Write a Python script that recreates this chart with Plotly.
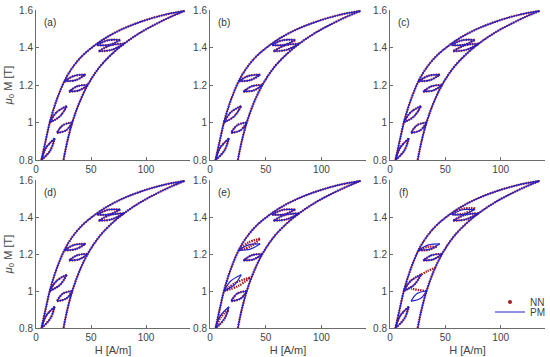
import plotly.graph_objects as go

# ---------------- data ----------------
# major loop, descending branch (tip -> bottom) and ascending branch (bottom -> tip)
maj_desc_H = [135, 115, 95, 78, 63, 52, 42, 34, 27, 22, 17, 12.5, 8.5, 5]
maj_desc_M = [1.595, 1.572, 1.537, 1.497, 1.45, 1.405, 1.355, 1.30, 1.235, 1.17, 1.09, 1.0, 0.895, 0.80]
maj_asc_H = [25, 28.5, 33, 39, 47, 57, 68, 80, 95, 110, 123, 135]
maj_asc_M = [0.80, 0.90, 1.0, 1.10, 1.20, 1.29, 1.36, 1.42, 1.48, 1.528, 1.565, 1.595]

# minor loops of the PM model: start, lower-arc mid, end | end, upper-arc mid, start
pm_loops_H = [
    [5, 12.9, 17, None, 17, 9.1, 5],
    [12.5, 21.9, 28, None, 28, 18.6, 12.5],
    [25.8, 36.1, 45, None, 45, 34.7, 25.8],
    [55.7, 66.6, 76.5, None, 76.5, 65.6, 55.7],
    [33, 24.5, 19, None, 19, 27.5, 33],
    [47, 37.8, 30, None, 30, 39.2, 47],
    [80, 67.9, 57, None, 57, 69.1, 80],
]
pm_loops_M = [
    [0.80, 0.850, 0.915, None, 0.915, 0.865, 0.80],
    [1.0, 1.034, 1.088, None, 1.088, 1.054, 1.0],
    [1.22, 1.226, 1.255, None, 1.255, 1.249, 1.22],
    [1.413, 1.414, 1.44, None, 1.44, 1.439, 1.413],
    [1.0, 0.986, 0.945, None, 0.945, 0.959, 1.0],
    [1.2, 1.194, 1.165, None, 1.165, 1.171, 1.2],
    [1.42, 1.412, 1.38, None, 1.38, 1.388, 1.42],
]

# NN minor loops in panel (e) (differ from PM)
nn_e_loops_H = [
    [5.5, 12.5, 16.5, None, 16.5, 9.5, 5.5],
    [12.5, 25.1, 36, None, 36, 23.4, 12.5],
    [25.8, 36.4, 45, None, 45, 34.4, 25.8],
    [55.7, 66.6, 76.5, None, 76.5, 65.6, 55.7],
    [33, 24.5, 19, None, 19, 27.5, 33],
    [47, 37.8, 30, None, 30, 39.2, 47],
    [80, 67.9, 57, None, 57, 69.1, 80],
]
nn_e_loops_M = [
    [0.80, 0.845, 0.90, None, 0.90, 0.857, 0.80],
    [1.0, 1.0265, 1.072, None, 1.072, 1.0455, 1.0],
    [1.22, 1.241, 1.283, None, 1.283, 1.262, 1.22],
    [1.413, 1.414, 1.44, None, 1.44, 1.439, 1.413],
    [1.0, 0.986, 0.945, None, 0.945, 0.959, 1.0],
    [1.2, 1.194, 1.165, None, 1.165, 1.171, 1.2],
    [1.42, 1.412, 1.38, None, 1.38, 1.388, 1.42],
]

# NN minor loops / paths in panel (f)
nn_f_loops_H = [
    [5, 12.9, 17, None, 17, 9.1, 5],
    [12.5, 21.9, 28, None, 28, 18.6, 12.5],
    [28, 34, 41],
    [25.8, 35.0, 42, None, 42, 33.8, 25.8],
    [56, 66.8, 77, None, 77, 65.8, 56],
    [33, 26, 19],
    [47, 37.8, 30, None, 30, 39.2, 47],
    [80, 67.9, 57, None, 57, 69.1, 80],
]
nn_f_loops_M = [
    [0.80, 0.850, 0.915, None, 0.915, 0.865, 0.80],
    [1.0, 1.034, 1.088, None, 1.088, 1.054, 1.0],
    [1.088, 1.108, 1.125],
    [1.22, 1.222, 1.24, None, 1.24, 1.238, 1.22],
    [1.415, 1.418, 1.447, None, 1.447, 1.444, 1.415],
    [1.0, 1.005, 1.013],
    [1.2, 1.194, 1.165, None, 1.165, 1.171, 1.2],
    [1.42, 1.412, 1.38, None, 1.38, 1.388, 1.42],
]

panel_labels = ["(a)", "(b)", "(c)", "(d)", "(e)", "(f)"]
x_ticks = [0, 50, 100]
y_ticks = [0.8, 1.0, 1.2, 1.4, 1.6]
y_ticktext = ["0.8", "1", "1.2", "1.4", "1.6"]
x_title = "H [A/m]"
y_title = "<i>μ</i><sub>0</sub> M [T]"

# ---------------- layout geometry ----------------
W, H = 550, 357
col_px = [(36, 190), (210, 366), (390, 545)]
row_px = [(10, 160), (180, 328)]

def join(parts_x, parts_y):
    xs, ys = [], []
    for px, py in zip(parts_x, parts_y):
        if xs:
            xs.append(None); ys.append(None)
        xs.extend(px); ys.extend(py)
    return xs, ys

pm_H, pm_M = join([maj_desc_H, maj_asc_H] + pm_loops_H, [maj_desc_M, maj_asc_M] + pm_loops_M)
nn_e_H, nn_e_M = join([maj_desc_H, maj_asc_H] + nn_e_loops_H, [maj_desc_M, maj_asc_M] + nn_e_loops_M)
nn_f_H, nn_f_M = join([maj_desc_H, maj_asc_H] + nn_f_loops_H, [maj_desc_M, maj_asc_M] + nn_f_loops_M)
nn_curves = [(pm_H, pm_M)] * 4 + [(nn_e_H, nn_e_M), (nn_f_H, nn_f_M)]

NN_COLOR = "#a51c22"
PM_COLOR = "#2020cc"
AX_COLOR = "#6b6b6b"
TXT_COLOR = "#444444"
FONT = "Liberation Sans, Arial, sans-serif"

fig = go.Figure()
layout = dict(width=W, height=H,
              margin=dict(l=0, r=0, t=0, b=0, autoexpand=False),
              paper_bgcolor="white", plot_bgcolor="white",
              font=dict(family=FONT, size=10, color=TXT_COLOR),
              showlegend=True)
annotations = []
for i in range(6):
    r, c = divmod(i, 3)
    n = i + 1
    xa = "x" if n == 1 else f"x{n}"
    ya = "y" if n == 1 else f"y{n}"
    x0, x1 = col_px[c]
    t, b = row_px[r]
    xax = dict(
        domain=[x0 / W, x1 / W], range=[0, 140], anchor=ya, automargin=False,
        tickvals=x_ticks, ticks="inside", ticklen=3, tickcolor=AX_COLOR,
        showline=True, linecolor=AX_COLOR, linewidth=1, showgrid=False,
        zeroline=False, tickfont=dict(size=10, color=TXT_COLOR))
    if r == 1:
        xax["title"] = dict(text=x_title, standoff=4, font=dict(size=11, color=TXT_COLOR))
    yax = dict(
        domain=[(H - b) / H, (H - t) / H], range=[0.8, 1.6], anchor=xa, automargin=False,
        tickvals=y_ticks, ticktext=y_ticktext, ticks="inside", ticklen=3,
        tickcolor=AX_COLOR, showline=True, linecolor=AX_COLOR, linewidth=1,
        showgrid=False, zeroline=False, tickfont=dict(size=10, color=TXT_COLOR))
    if c == 0:
        yax["title"] = dict(text=y_title, standoff=4, font=dict(size=11, color=TXT_COLOR))
    layout["xaxis" if n == 1 else f"xaxis{n}"] = xax
    layout["yaxis" if n == 1 else f"yaxis{n}"] = yax
    nx, ny = nn_curves[i]
    # NN (dense red dots) then PM (blue line) on top
    fig.add_trace(go.Scatter(x=nx, y=ny, xaxis=xa, yaxis=ya,
                             mode="lines", line=dict(color=NN_COLOR, width=2.3, dash="1.5px,1px", shape="spline"),
                             showlegend=False, hoverinfo="skip"))
    fig.add_trace(go.Scatter(x=pm_H, y=pm_M, xaxis=xa, yaxis=ya,
                             mode="lines", line=dict(color=PM_COLOR, width=1.2, shape="spline"),
                             showlegend=False, hoverinfo="skip"))
    annotations.append(dict(text=panel_labels[i], x=0.09, y=0.915,
                            xref=f"{xa} domain", yref=f"{ya} domain",
                            xanchor="center", yanchor="middle",
                            showarrow=False, font=dict(size=10, color="#333")))

# legend entries (in panel f)
fig.add_trace(go.Scatter(x=[None], y=[None], mode="markers", name="NN",
                         marker=dict(color=NN_COLOR, size=4), xaxis="x6", yaxis="y6",
                         legend="legend"))
fig.add_trace(go.Scatter(x=[None], y=[None], mode="lines", name="PM",
                         line=dict(color=PM_COLOR, width=1), xaxis="x6", yaxis="y6",
                         legend="legend2"))
layout["legend"] = dict(x=490 / W, y=(H - 302) / H, xanchor="left", yanchor="middle",
                        bgcolor="rgba(0,0,0,0)", font=dict(size=10, color=TXT_COLOR),
                        borderwidth=0)
layout["legend2"] = dict(x=490 / W, y=(H - 312) / H, xanchor="left", yanchor="middle",
                         bgcolor="rgba(0,0,0,0)", font=dict(size=10, color=TXT_COLOR),
                         borderwidth=0)
layout["annotations"] = annotations
fig.update_layout(**layout)
# the default page body has an 8px margin; remove it so the figure fills the window
fig.write_html("out.html", config={"displayModeBar": False},
               post_script="document.body.style.margin='0';")
